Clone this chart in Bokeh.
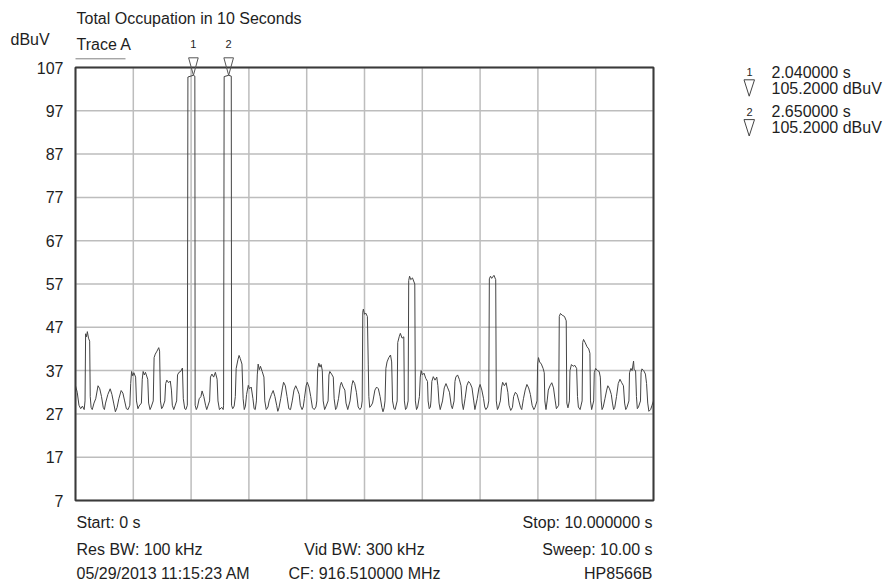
from bokeh.plotting import figure
from bokeh.models import Range1d
from bokeh.core.properties import value
from bokeh.embed import file_html
from bokeh.resources import INLINE

# ---------------- data ----------------
trace_t = [
    0.00, 0.03, 0.06, 0.09, 0.12, 0.15, 0.165, 0.175, 0.19, 0.205, 0.225, 0.245, 0.255, 0.27, 0.29, 0.32,
    0.35, 0.39, 0.42, 0.45, 0.48, 0.50, 0.52, 0.56, 0.60, 0.63, 0.66, 0.69, 0.72, 0.75, 0.79, 0.82,
    0.85, 0.88, 0.91, 0.94, 0.955, 0.97, 0.99, 1.01, 1.04, 1.055, 1.08, 1.10, 1.14, 1.155, 1.17, 1.19,
    1.21, 1.25, 1.265, 1.29, 1.31, 1.345, 1.36, 1.38, 1.41, 1.44, 1.455, 1.47, 1.49, 1.51, 1.545, 1.56,
    1.58, 1.61, 1.64, 1.66, 1.675, 1.70, 1.72, 1.75, 1.765, 1.79, 1.82, 1.85, 1.865, 1.89, 1.91, 1.935,
    1.945, 2.04, 2.065, 2.07, 2.09, 2.11, 2.14, 2.17, 2.19, 2.22, 2.25, 2.27, 2.29, 2.32, 2.335, 2.36,
    2.39, 2.42, 2.45, 2.465, 2.49, 2.53, 2.555, 2.562, 2.572, 2.65, 2.695, 2.70, 2.72, 2.745, 2.765, 2.78,
    2.81, 2.83, 2.85, 2.88, 2.90, 2.92, 2.94, 2.96, 2.99, 3.01, 3.04, 3.07, 3.09, 3.11, 3.13, 3.145,
    3.16, 3.18, 3.20, 3.23, 3.26, 3.275, 3.30, 3.33, 3.35, 3.39, 3.42, 3.45, 3.48, 3.50, 3.52, 3.55,
    3.58, 3.60, 3.63, 3.66, 3.69, 3.72, 3.75, 3.78, 3.81, 3.84, 3.87, 3.89, 3.92, 3.94, 3.96, 3.99,
    4.01, 4.04, 4.07, 4.10, 4.13, 4.16, 4.175, 4.19, 4.21, 4.23, 4.25, 4.27, 4.285, 4.31, 4.33, 4.37,
    4.385, 4.40, 4.43, 4.46, 4.475, 4.50, 4.52, 4.55, 4.58, 4.60, 4.63, 4.66, 4.68, 4.71, 4.75, 4.78,
    4.80, 4.83, 4.86, 4.89, 4.92, 4.945, 4.96, 4.97, 4.98, 5.00, 5.02, 5.05, 5.065, 5.075, 5.09, 5.11,
    5.14, 5.18, 5.21, 5.24, 5.27, 5.30, 5.32, 5.34, 5.355, 5.37, 5.39, 5.42, 5.45, 5.47, 5.485, 5.51,
    5.53, 5.565, 5.575, 5.60, 5.62, 5.65, 5.68, 5.69, 5.71, 5.73, 5.755, 5.765, 5.78, 5.80, 5.83, 5.87,
    5.88, 5.90, 5.92, 5.95, 5.965, 5.98, 6.00, 6.03, 6.06, 6.09, 6.10, 6.12, 6.14, 6.15, 6.165, 6.19,
    6.22, 6.25, 6.27, 6.29, 6.31, 6.35, 6.38, 6.41, 6.44, 6.47, 6.50, 6.52, 6.55, 6.565, 6.58, 6.61,
    6.64, 6.67, 6.69, 6.71, 6.74, 6.77, 6.80, 6.83, 6.86, 6.89, 6.91, 6.95, 6.98, 7.00, 7.03, 7.06,
    7.08, 7.10, 7.13, 7.15, 7.16, 7.18, 7.20, 7.24, 7.27, 7.28, 7.30, 7.32, 7.35, 7.37, 7.39, 7.42,
    7.45, 7.48, 7.50, 7.53, 7.56, 7.58, 7.61, 7.64, 7.67, 7.70, 7.72, 7.75, 7.78, 7.81, 7.84, 7.87,
    7.90, 7.93, 7.95, 7.985, 7.995, 8.01, 8.03, 8.06, 8.09, 8.11, 8.12, 8.14, 8.16, 8.18, 8.21, 8.24,
    8.27, 8.30, 8.32, 8.36, 8.37, 8.39, 8.42, 8.46, 8.49, 8.50, 8.52, 8.545, 8.555, 8.58, 8.61, 8.64,
    8.67, 8.685, 8.70, 8.73, 8.765, 8.775, 8.79, 8.82, 8.85, 8.88, 8.90, 8.91, 8.93, 8.965, 8.975, 9.00,
    9.03, 9.06, 9.08, 9.095, 9.11, 9.13, 9.16, 9.19, 9.21, 9.24, 9.27, 9.29, 9.31, 9.33, 9.36, 9.39,
    9.42, 9.45, 9.48, 9.50, 9.52, 9.54, 9.575, 9.585, 9.61, 9.63, 9.655, 9.665, 9.69, 9.705, 9.72, 9.74,
    9.775, 9.785, 9.80, 9.83, 9.86, 9.88, 9.90, 9.92, 9.95, 9.975, 10.0,
]
trace_dbuv = [
    33.5, 32.0, 29.0, 28.2, 28.8, 28.0, 30.0, 45.5, 44.8, 46.0, 44.5, 43.8, 31.0, 28.5, 28.0, 29.5,
    30.5, 33.5, 32.8, 31.0, 28.5, 28.0, 29.5, 31.5, 32.8, 31.5, 29.5, 27.5, 28.5, 30.5, 32.4, 31.8,
    30.0, 28.2, 28.0, 29.0, 34.0, 36.8, 35.8, 36.5, 35.5, 30.0, 28.2, 28.8, 29.5, 35.0, 36.8, 36.0,
    36.6, 35.0, 29.5, 28.0, 28.6, 30.0, 40.0, 40.8, 41.5, 42.3, 41.5, 30.0, 28.2, 28.6, 30.0, 34.0,
    34.8, 34.2, 34.6, 32.5, 29.0, 28.0, 28.8, 30.0, 36.0, 36.6, 36.8, 37.6, 30.5, 28.2, 28.0, 29.0,
    104.8, 105.2, 105.0, 29.0, 28.0, 28.6, 30.5, 31.0, 32.3, 31.0, 29.0, 28.0, 28.8, 30.0, 35.5, 36.2,
    35.5, 36.6, 35.0, 30.0, 28.0, 28.5, 28.0, 29.0, 104.9, 105.2, 105.0, 29.0, 28.2, 28.8, 31.0, 37.5,
    39.5, 40.5, 39.8, 38.5, 30.5, 28.0, 28.8, 31.5, 33.6, 32.8, 33.2, 30.5, 28.2, 28.0, 30.0, 36.0,
    38.5, 37.2, 38.0, 36.8, 35.5, 30.0, 28.0, 28.6, 30.0, 31.5, 32.4, 31.0, 29.0, 27.6, 28.4, 30.5,
    33.0, 34.3, 33.5, 31.0, 28.2, 28.0, 30.0, 32.5, 33.5, 32.6, 31.5, 29.0, 28.0, 28.6, 30.5, 33.5,
    34.3, 33.2, 31.0, 28.4, 28.0, 28.6, 30.0, 37.5, 38.7, 37.8, 38.4, 37.0, 30.0, 28.0, 28.6, 30.0,
    36.0, 36.8, 36.2, 35.5, 30.5, 28.0, 28.5, 30.5, 33.5, 34.3, 33.2, 32.5, 29.5, 28.0, 30.0, 33.5,
    34.7, 34.0, 32.0, 28.6, 28.0, 28.5, 30.0, 50.5, 51.2, 50.0, 50.3, 49.5, 38.5, 31.0, 28.5, 28.8,
    29.5, 32.5, 33.2, 32.8, 31.0, 28.5, 27.5, 28.4, 30.0, 37.5, 39.0, 40.0, 40.6, 39.0, 30.0, 28.2,
    28.0, 30.0, 43.5, 44.8, 45.6, 44.5, 44.8, 30.0, 28.0, 28.4, 30.0, 57.8, 58.8, 58.0, 58.4, 57.0,
    30.0, 28.0, 28.6, 31.0, 35.5, 37.0, 36.0, 36.4, 35.2, 34.5, 30.0, 28.2, 28.6, 30.0, 34.5, 35.6,
    34.8, 35.5, 33.5, 29.5, 28.0, 30.0, 33.0, 34.0, 33.0, 32.0, 29.0, 28.2, 30.0, 34.5, 35.5, 36.0,
    35.0, 33.5, 29.5, 28.0, 30.5, 33.5, 34.5, 34.0, 33.0, 30.0, 28.0, 30.5, 33.0, 33.8, 32.5, 30.5,
    28.6, 28.0, 28.6, 30.0, 58.2, 58.8, 58.3, 59.0, 58.0, 30.0, 28.0, 28.6, 30.0, 33.0, 34.3, 33.5,
    34.2, 32.0, 29.0, 27.8, 28.5, 31.0, 32.0, 31.5, 30.0, 28.5, 28.0, 30.5, 32.5, 33.8, 33.0, 31.5,
    29.0, 28.0, 28.5, 30.0, 38.5, 40.0, 39.0, 38.5, 37.5, 36.5, 30.0, 28.0, 30.0, 32.5, 33.5, 34.2,
    33.0, 30.0, 28.2, 29.0, 49.5, 50.2, 49.8, 49.5, 48.5, 29.5, 28.4, 30.0, 37.0, 38.4, 38.0, 38.2,
    37.5, 31.0, 28.6, 28.0, 30.0, 43.5, 44.2, 43.4, 42.5, 42.0, 41.0, 30.0, 28.0, 30.0, 36.5, 37.5,
    37.0, 36.8, 35.5, 30.0, 28.0, 28.6, 30.5, 32.5, 33.5, 32.8, 31.5, 29.5, 28.0, 28.5, 31.0, 34.0,
    35.0, 34.2, 33.5, 29.5, 28.0, 28.5, 30.0, 36.5, 37.5, 37.0, 39.2, 37.2, 37.0, 31.0, 28.2, 28.6,
    30.0, 36.5, 37.4, 37.0, 36.2, 34.0, 29.5, 27.6, 28.0, 29.0, 30.0,
]

marker_ids = ["1", "2"]
marker_t = [2.04, 2.65]
marker_dbuv = [105.2, 105.2]

y_ticks = [7, 17, 27, 37, 47, 57, 67, 77, 87, 97, 107]
y_tick_labels = ["7", "17", "27", "37", "47", "57", "67", "77", "87", "97", "107"]
x_grid = [0, 1, 2, 3, 4, 5, 6, 7, 8, 9, 10]

title_text = "Total Occupation in 10 Seconds"
unit_text = "dBuV"
trace_name = "Trace A"
info_left = ["Start: 0 s", "Res BW: 100 kHz", "05/29/2013 11:15:23 AM"]
info_mid = ["", "Vid BW: 300 kHz", "CF: 916.510000 MHz"]
info_right = ["Stop: 10.000000 s", "Sweep: 10.00 s", "HP8566B"]

# ---------------- layout (canvas pixels) ----------------
W, H = 888, 583
FL, FR, FT, FB = 75, 653, 67, 500          # grid box inside the canvas
FONT = "Liberation Sans"
TXT = "#1e1e1e"
X0, X1 = x_grid[0], x_grid[-1]
Y0, Y1 = y_ticks[0], y_ticks[-1]


def px2x(px):
    return X0 + (px - FL) * (X1 - X0) / (FR - FL)


def py2y(py):
    return Y1 - (py - FT) * (Y1 - Y0) / (FB - FT)


p = figure(width=W, height=H, output_backend="svg", toolbar_location=None, title=None,
           x_range=Range1d(px2x(0), px2x(W)), y_range=Range1d(py2y(H), py2y(0)),
           x_axis_location=None, y_axis_location=None,
           min_border_left=0, min_border_right=0, min_border_top=0, min_border_bottom=0,
           background_fill_color="white", border_fill_color="white")
p.outline_line_color = None
for g in p.grid:
    g.visible = False

GRID = "#bdbdbd"
p.segment(x0=x_grid, y0=[Y0] * len(x_grid), x1=x_grid, y1=[Y1] * len(x_grid),
          line_color=GRID, line_width=1.5)
p.segment(x0=[X0] * len(y_ticks), y0=y_ticks, x1=[X1] * len(y_ticks), y1=y_ticks,
          line_color=GRID, line_width=1.5)

p.line(trace_t, trace_dbuv, line_color="#444444", line_width=1)

p.quad(left=[X0], right=[X1], bottom=[Y0], top=[Y1], fill_color=None,
       line_color="#3a3a3a", line_width=2)

p.text(x=[px2x(63)] * len(y_ticks), y=y_ticks, text=y_tick_labels, text_font=value(FONT),
       text_font_size="16px", text_align="right", text_baseline="middle", text_color=TXT)


def add_text(px, py, text, size="16px", align="left", color=TXT, x=None):
    p.text(x=[px2x(px) if x is None else x], y=[py2y(py)], text=[text], text_font=value(FONT),
           text_font_size=size, text_align=align, text_baseline="middle", text_color=color)


# header (py = centre of capitals)
add_text(76, 17.5, title_text)
add_text(10, 39.2, unit_text)
add_text(76, 43.8, trace_name)
p.line([px2x(75), px2x(125)], [py2y(58.3), py2y(58.3)], line_color="#808080", line_width=1)

# markers on the trace
half_w = 4.8 * (X1 - X0) / (FR - FL)
tri_top = py2y(57.3)
p.patches(xs=[[t - half_w, t + half_w, t] for t in marker_t],
          ys=[[tri_top, tri_top, v] for v in marker_dbuv],
          fill_color="white", fill_alpha=0.0, line_color="#555555", line_width=1)
for mid, mt in zip(marker_ids, marker_t):
    add_text(0, 43, mid, size="11px", align="center", x=mt)

# marker readout
for i, (mid, mt, mv) in enumerate(zip(marker_ids, marker_t, marker_dbuv)):
    tc = 71.8 + 39.2 * i
    vc = 87.5 + 39.8 * i
    add_text(749, tc, mid, size="11px", align="center")
    add_text(771, tc, f"{mt:.6f} s", size="16px")
    p.patch(x=[px2x(743.5), px2x(754), px2x(748.7)],
            y=[py2y(vc - 8.2), py2y(vc - 8.2), py2y(vc + 8.2)],
            fill_alpha=0.0, line_color="#444444", line_width=1)
    add_text(771, vc, f"{mv:.4f} dBuV", size="16px")

# footer
rows = [521.7, 548.5, 573.0]
for i, c in enumerate(rows):
    add_text(76, c, info_left[i])
    if info_mid[i]:
        add_text(364, c, info_mid[i], align="center")
    add_text(652, c, info_right[i], align="right")

open("out.html", "w").write(file_html(p, INLINE))
